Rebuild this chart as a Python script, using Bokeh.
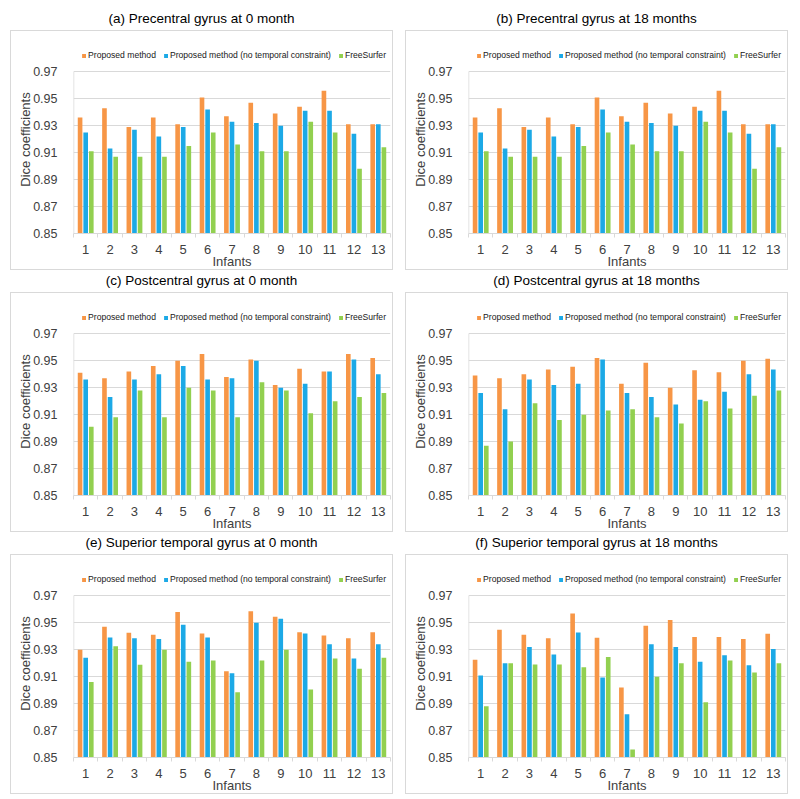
from bokeh.plotting import figure
from bokeh.models import (Range1d, FixedTicker, NumeralTickFormatter, Legend, LegendItem,
                          ColumnDataSource, Div, Spacer)
from bokeh.transform import dodge
from bokeh.layouts import column, row
from bokeh.embed import file_html
from bokeh.resources import INLINE

# ---------------- data ----------------
infants = [1, 2, 3, 4, 5, 6, 7, 8, 9, 10, 11, 12, 13]
y_ticks = [0.85, 0.87, 0.89, 0.91, 0.93, 0.95, 0.97]
series_labels = ["Proposed method", "Proposed method (no temporal constraint)", "FreeSurfer"]
x_label = "Infants"
y_label = "Dice coefficients"
panel_titles = [
    "(a) Precentral gyrus at 0 month",
    "(b) Precentral gyrus at 18 months",
    "(c) Postcentral gyrus at 0 month",
    "(d) Postcentral gyrus at 18 months",
    "(e) Superior temporal gyrus at 0 month",
    "(f) Superior temporal gyrus at 18 months",
]

a_proposed = [0.936, 0.943, 0.929, 0.936, 0.931, 0.951, 0.937, 0.947, 0.939, 0.944, 0.956, 0.931, 0.931]
a_no_temporal = [0.925, 0.913, 0.927, 0.922, 0.929, 0.942, 0.933, 0.932, 0.930, 0.941, 0.941, 0.924, 0.931]
a_freesurfer = [0.911, 0.907, 0.907, 0.907, 0.915, 0.925, 0.916, 0.911, 0.911, 0.933, 0.925, 0.898, 0.914]

b_proposed = [0.936, 0.943, 0.929, 0.936, 0.931, 0.951, 0.937, 0.947, 0.939, 0.944, 0.956, 0.931, 0.931]
b_no_temporal = [0.925, 0.913, 0.927, 0.922, 0.929, 0.942, 0.933, 0.932, 0.930, 0.941, 0.941, 0.924, 0.931]
b_freesurfer = [0.911, 0.907, 0.907, 0.907, 0.915, 0.925, 0.916, 0.911, 0.911, 0.933, 0.925, 0.898, 0.914]

c_proposed = [0.941, 0.937, 0.942, 0.946, 0.950, 0.955, 0.938, 0.951, 0.932, 0.944, 0.942, 0.955, 0.952]
c_no_temporal = [0.936, 0.923, 0.936, 0.940, 0.946, 0.936, 0.937, 0.950, 0.930, 0.933, 0.942, 0.951, 0.940]
c_freesurfer = [0.901, 0.908, 0.928, 0.908, 0.930, 0.928, 0.908, 0.934, 0.928, 0.911, 0.920, 0.923, 0.926]

d_proposed = [0.939, 0.937, 0.940, 0.9435, 0.9455, 0.952, 0.933, 0.9485, 0.930, 0.943, 0.9415, 0.950, 0.9515]
d_no_temporal = [0.926, 0.914, 0.936, 0.932, 0.933, 0.951, 0.926, 0.923, 0.9175, 0.921, 0.927, 0.940, 0.9435]
d_freesurfer = [0.887, 0.890, 0.9185, 0.906, 0.910, 0.913, 0.914, 0.908, 0.9035, 0.920, 0.9145, 0.924, 0.928]

e_proposed = [0.930, 0.947, 0.9425, 0.941, 0.958, 0.942, 0.914, 0.9585, 0.9545, 0.943, 0.9405, 0.9385, 0.943]
e_no_temporal = [0.924, 0.939, 0.9385, 0.938, 0.9485, 0.939, 0.9125, 0.950, 0.953, 0.942, 0.934, 0.9235, 0.934]
e_freesurfer = [0.906, 0.9325, 0.9188, 0.930, 0.921, 0.922, 0.8985, 0.922, 0.930, 0.9005, 0.9235, 0.9158, 0.924]

f_proposed = [0.9225, 0.9448, 0.941, 0.9385, 0.9568, 0.9388, 0.902, 0.9478, 0.952, 0.9395, 0.9395, 0.938, 0.9418]
f_no_temporal = [0.9108, 0.920, 0.932, 0.9265, 0.9428, 0.9093, 0.882, 0.934, 0.932, 0.921, 0.9258, 0.9185, 0.9305]
f_freesurfer = [0.888, 0.920, 0.919, 0.919, 0.917, 0.9245, 0.856, 0.910, 0.920, 0.891, 0.922, 0.913, 0.920]

# ---------------- style ----------------
FONT = "Liberation Sans"
COLORS = ["#F79646", "#1CA9E6", "#92D050"]
TEXT = "#404040"
GRID = "#D9D9D9"
FW = 315
PLOT_H = 160           # height of the 0.85-0.97 span in px
LEGEND_BAND = 26       # px kept free above the 0.97 line for the legend
FH = PLOT_H + LEGEND_BAND
ML, MR, MT, MB = 62, 4, 14, 37
FIG_W = ML + FW + MR


def make_panel(title, series):
    data = dict(infant=infants, s0=series[0], s1=series[1], s2=series[2])
    src = ColumnDataSource(data)
    y_span = y_ticks[-1] - y_ticks[0]
    y_top = y_ticks[-1] + y_span * LEGEND_BAND / PLOT_H
    x_start, x_end = infants[0] - 0.5, infants[-1] + 0.5
    p = figure(title=None, frame_width=FW, frame_height=FH,
               x_range=Range1d(x_start, x_end),
               y_range=Range1d(y_ticks[0], y_top),
               output_backend="svg", toolbar_location=None,
               min_border_left=ML, min_border_right=MR,
               min_border_top=MT, min_border_bottom=MB,
               background_fill_color="white", border_fill_color="white")
    p.outline_line_color = None

    offsets = [-0.23, 0.0, 0.23]
    renderers = []
    for k in range(3):
        r = p.vbar(x=dodge("infant", offsets[k], range=p.x_range), top="s%d" % k,
                   bottom=y_ticks[0], width=0.19, source=src,
                   fill_color=COLORS[k], line_color=None)
        renderers.append(r)

    # faint value-axis line spanning only the tick range
    p.segment(x0=[x_start], y0=[y_ticks[0]], x1=[x_start], y1=[y_ticks[-1]],
              line_color=GRID, line_width=1.5)

    xa = p.xaxis[0]
    xa.ticker = FixedTicker(ticks=infants,
                            minor_ticks=[i - 0.5 for i in infants] + [infants[-1] + 0.5])
    xa.major_tick_line_color = None
    xa.major_tick_out = 0
    xa.major_tick_in = 0
    xa.minor_tick_line_color = GRID
    xa.minor_tick_out = 4
    xa.minor_tick_in = 0
    xa.axis_line_color = GRID
    xa.major_label_text_font = FONT
    xa.major_label_text_font_size = "13px"
    xa.major_label_text_color = TEXT
    xa.major_label_standoff = 7
    xa.axis_label = x_label
    xa.axis_label_text_font = FONT
    xa.axis_label_text_font_size = "13px"
    xa.axis_label_text_font_style = "normal"
    xa.axis_label_text_color = TEXT
    xa.axis_label_standoff = -3

    ya = p.yaxis[0]
    ya.ticker = FixedTicker(ticks=y_ticks)
    ya.formatter = NumeralTickFormatter(format="0.00")
    ya.major_tick_line_color = None
    ya.major_tick_out = 0
    ya.major_tick_in = 0
    ya.minor_tick_line_color = None
    ya.axis_line_color = None
    ya.major_label_text_font = FONT
    ya.major_label_text_font_size = "12.5px"
    ya.major_label_text_color = TEXT
    ya.major_label_standoff = 16
    ya.axis_label = y_label
    ya.axis_label_text_font = FONT
    ya.axis_label_text_font_size = "13px"
    ya.axis_label_text_font_style = "normal"
    ya.axis_label_text_color = TEXT
    ya.axis_label_standoff = -3

    p.xgrid.grid_line_color = None
    p.ygrid.grid_line_color = GRID

    legend = Legend(items=[LegendItem(label=series_labels[k], renderers=[renderers[k]])
                           for k in range(3)],
                    orientation="horizontal", location="top_right",
                    label_text_font=FONT, label_text_font_size="8.6px",
                    label_text_color="#202020", label_height=12,
                    glyph_width=5, glyph_height=5, label_standoff=2, spacing=7,
                    padding=0, margin=4,
                    border_line_color=None, background_fill_alpha=0)
    p.add_layout(legend, "center")
    p.styles = {"border": "1px solid #D9D9D9"}

    head = Div(text=title, width=FIG_W + 2, height=22, margin=0,
               styles={"font-family": FONT, "font-size": "13.5px", "color": "#000000",
                       "text-align": "center", "line-height": "22px"})
    return column(head, p, spacing=0)


panels = [
    make_panel(panel_titles[0], [a_proposed, a_no_temporal, a_freesurfer]),
    make_panel(panel_titles[1], [b_proposed, b_no_temporal, b_freesurfer]),
    make_panel(panel_titles[2], [c_proposed, c_no_temporal, c_freesurfer]),
    make_panel(panel_titles[3], [d_proposed, d_no_temporal, d_freesurfer]),
    make_panel(panel_titles[4], [e_proposed, e_no_temporal, e_freesurfer]),
    make_panel(panel_titles[5], [f_proposed, f_no_temporal, f_freesurfer]),
]


def panel_row(left, right):
    return row(Spacer(width=10, margin=0), left, Spacer(width=12, margin=0), right, spacing=0)


layout = column(Spacer(height=8, margin=0),
                panel_row(panels[0], panels[1]),
                panel_row(panels[2], panels[3]),
                panel_row(panels[4], panels[5]), spacing=0)

open("out.html", "w").write(file_html(layout, INLINE))
